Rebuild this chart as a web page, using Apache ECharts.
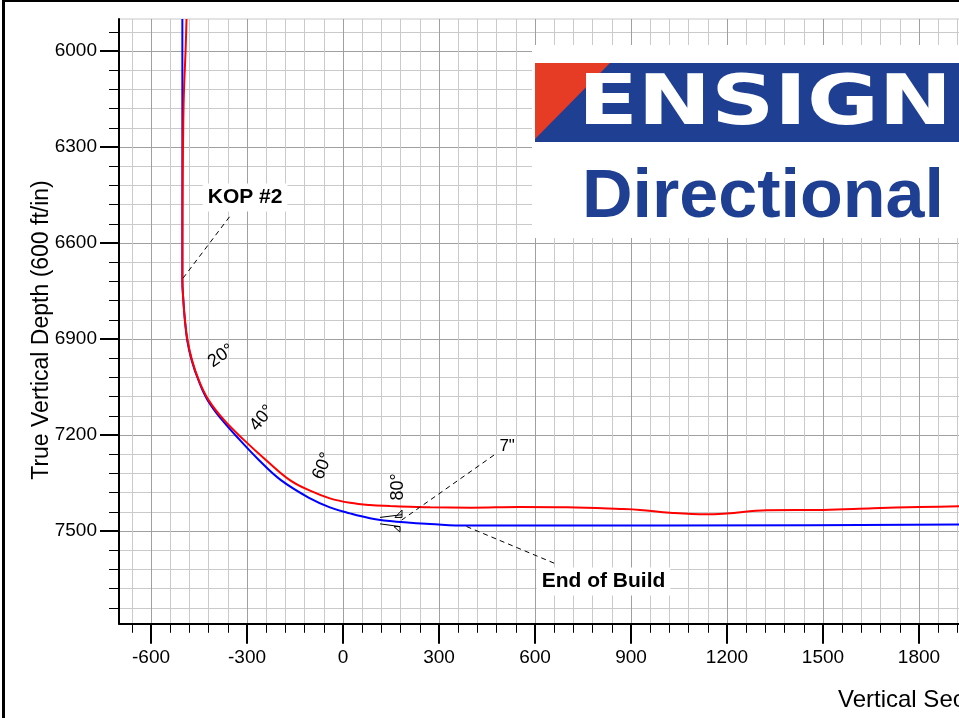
<!DOCTYPE html>
<html>
<head>
<meta charset="utf-8">
<script src="https://cdn.jsdelivr.net/npm/echarts@6/dist/echarts.min.js"></script>
<style>
  html, body { margin: 0; padding: 0; width: 959px; height: 718px; overflow: hidden; background: #fff; }
  #chart { width: 1200px; height: 718px; }
</style>
</head>
<body>
<div id="chart"></div>
<script>
// axis ticks
var xMajor = [-600, -300, 0, 300, 600, 900, 1200, 1500, 1800, 2100];
var yMajor = [6000, 6300, 6600, 6900, 7200, 7500];
var minorStep = 60;

// plan (blue) well path : vertical section / TVD
var planVS  = [-502, -502, -499, -494, -487, -473, -452, -423, -378, -322, -263, -194, -103, -41, 22, 84, 147, 209, 272, 388, 1000, 1925, 2400];
var planTVD = [5900, 6716, 6778, 6841, 6903, 6966, 7028, 7091, 7153, 7216, 7278, 7341, 7398, 7426, 7445, 7460, 7469, 7474, 7478, 7483, 7483, 7480, 7479];

// actual (red) well path
var actualVS  = [-489, -492, -497, -499, -501, -502, -502, -499, -494, -486, -472, -451, -420, -372, -309, -241, -166, -103, -41, 22, 84, 147, 209, 272, 400, 553, 700, 866, 928, 1022, 1136, 1199, 1324, 1500, 1656, 1800, 1925, 2100];
var actualTVD = [5900, 6000, 6125, 6219, 6400, 6600, 6716, 6778, 6841, 6903, 6966, 7028, 7091, 7153, 7216, 7278, 7341, 7374, 7398, 7412, 7419, 7422, 7424, 7426, 7427, 7425, 7426, 7431, 7434, 7443, 7448, 7445, 7435, 7434, 7429, 7425, 7423, 7421];

// inclination labels along the build
var incText = ['20°', '40°', '60°', '80°'];
var incVS   = [-381, -253, -63, 172];
var incTVD  = [6953, 7147, 7297, 7362];
var incTilt = [35, 50, 68, 90];

// callouts: text, label point, leader start, leader end
var calloutText = ['KOP #2', 'End of Build', '7"'];
var calloutVS   = [-306, 814, 513];
var calloutTVD  = [6458, 7658, 7234];
var leaderFrom  = [[-500, 6710], [386, 7486], [183, 7466]];
var leaderTo    = [[-350, 6512], [668, 7604], [480, 7257]];
var casingShoe  = [150, 7469];

function steps(a, b, s) {
  var out = [];
  for (var v = a; v <= b; v += s) out.push(v);
  return out;
}
var xMinor = steps(-660, 2400, minorStep);
var yMinor = steps(5940, 7740, minorStep);

function pairs(xs, ys) {
  return xs.map(function (x, i) { return [x, ys[i]]; });
}
function plain(v) { return String(v); }

var FONT = '"Liberation Sans", Arial, sans-serif';
var X_MIN = -700, X_MAX = 2400, Y_MIN = 5900, Y_MAX = 7790;

var chart = echarts.init(document.getElementById('chart'));

var option = {
  animation: false,
  backgroundColor: '#fff',
  textStyle: { fontFamily: FONT },
  grid: { left: 119, top: 19, width: 992, height: 604.8, show: true, borderColor: '#c8c8c8', borderWidth: 1, backgroundColor: 'transparent' },
  xAxis: [
    {
      type: 'value', min: X_MIN, max: X_MAX, position: 'bottom',
      axisLine: { show: true, onZero: false, lineStyle: { color: '#000', width: 2 } },
      axisTick: { show: true, customValues: xMinor, length: 9, lineStyle: { color: '#000', width: 1 } },
      axisLabel: { show: false },
      splitLine: { show: true, lineStyle: { color: '#cacaca', width: 1 } }
    },
    {
      type: 'value', min: X_MIN, max: X_MAX, position: 'bottom',
      axisLine: { show: false, onZero: false },
      axisTick: { show: true, customValues: xMajor, length: 20, lineStyle: { color: '#000', width: 2 } },
      axisLabel: { show: true, customValues: xMajor, formatter: plain, fontSize: 19, color: '#000', margin: 24, fontFamily: FONT },
      splitLine: { show: true, lineStyle: { color: '#a0a0a0', width: 1 } }
    }
  ],
  yAxis: [
    {
      type: 'value', min: Y_MIN, max: Y_MAX, inverse: true, position: 'left',
      axisLine: { show: true, onZero: false, lineStyle: { color: '#000', width: 2 } },
      axisTick: { show: true, customValues: yMinor, length: 10, lineStyle: { color: '#000', width: 1 } },
      axisLabel: { show: false },
      splitLine: { show: true, lineStyle: { color: '#cacaca', width: 1 } }
    },
    {
      type: 'value', min: Y_MIN, max: Y_MAX, inverse: true, position: 'left',
      axisLine: { show: false, onZero: false },
      axisTick: { show: true, customValues: yMajor, length: 19, lineStyle: { color: '#000', width: 2 } },
      axisLabel: { show: true, customValues: yMajor, formatter: plain, fontSize: 19, color: '#000', margin: 22, fontFamily: FONT },
      splitLine: { show: true, lineStyle: { color: '#a0a0a0', width: 1 } }
    }
  ],
  series: [
    {
      name: 'Plan', type: 'line', xAxisIndex: 0, yAxisIndex: 0,
      data: pairs(planVS, planTVD), showSymbol: false, smooth: 0.4, z: 3,
      lineStyle: { color: '#0000ff', width: 2 },
      markPoint: {
        silent: true,
        data: [{
          coord: casingShoe,
          symbol: 'path://M0,8 L22,5 M22,0 L22,8 L15,8 Z M0,15 L20,18 M20,18 L20,24 L14,18 Z',
          symbolSize: [22, 22]
        }],
        itemStyle: { color: 'rgba(0,0,0,0)', borderColor: '#000', borderWidth: 1 },
        label: { show: false }
      }
    },
    {
      name: 'Actual', type: 'line', xAxisIndex: 0, yAxisIndex: 0,
      data: pairs(actualVS, actualTVD), showSymbol: false, smooth: 0.4, z: 4,
      lineStyle: { color: '#ff0000', width: 2 }
    },
    {
      name: 'leaders', type: 'line', xAxisIndex: 0, yAxisIndex: 0, data: [], z: 5,
      markLine: {
        silent: true, symbol: 'none', label: { show: false },
        lineStyle: { color: '#000', width: 1, type: [5, 4] },
        data: leaderFrom.map(function (p, i) { return [{ coord: p }, { coord: leaderTo[i] }]; })
      }
    },
    {
      name: 'inclination', type: 'scatter', xAxisIndex: 0, yAxisIndex: 0, symbolSize: 0, z: 6, silent: true,
      itemStyle: { opacity: 1, color: '#000' },
      data: incText.map(function (t, i) {
        return { name: t, value: [incVS[i], incTVD[i]], label: { rotate: incTilt[i], color: '#000' } };
      }),
      label: { show: true, position: 'inside', formatter: '{b}', fontSize: 18, color: '#000', textBorderWidth: 0, fontFamily: FONT }
    },
    {
      name: 'callouts', type: 'scatter', xAxisIndex: 0, yAxisIndex: 0, symbolSize: 0, z: 7, silent: true,
      itemStyle: { opacity: 1, color: '#000' },
      data: calloutText.map(function (t, i) {
        var boxed = i < 2;
        return {
          name: t, value: [calloutVS[i], calloutTVD[i]],
          label: boxed
            ? { fontSize: 21, fontWeight: 'bold', color: '#000', backgroundColor: '#fff', padding: [4, 5, 3, 5] }
            : { fontSize: 17, fontWeight: 'normal', color: '#000' }
        };
      }),
      label: { show: true, position: 'inside', formatter: '{b}', color: '#000', textBorderWidth: 0, fontFamily: FONT }
    }
  ],
  graphic: [
    { type: 'rect', z: 100, shape: { x: 532, y: 45, width: 700, height: 193 }, style: { fill: '#fff' } },
    { type: 'rect', z: 101, shape: { x: 535, y: 63, width: 700, height: 79 }, style: { fill: '#1f3f92' } },
    { type: 'polygon', z: 102, shape: { points: [[535, 63], [610, 63], [535, 139]] }, style: { fill: '#e63b24' } },
    { type: 'text', z: 103, x: 578, y: 106, scaleX: 1.27,
      style: { text: 'ENSIGN', fill: '#fff', font: 'bold 69px "DejaVu Sans"', align: 'left', verticalAlign: 'middle' } },
    { type: 'text', z: 103, x: 582, y: 198, scaleX: 1.03,
      style: { text: 'Directional', fill: '#1f3f92', font: 'bold 68px "Liberation Sans"', align: 'left', verticalAlign: 'middle' } },
    { type: 'text', z: 103, x: 42, y: 330, rotation: Math.PI / 2,
      style: { text: 'True Vertical Depth (600 ft/in)', fill: '#000', font: '23px "Liberation Sans"', align: 'center', verticalAlign: 'middle' } },
    { type: 'text', z: 103, x: 838, y: 700,
      style: { text: 'Vertical Section at 0.00° (600 ft/in)', fill: '#000', font: '24px "Liberation Sans"', align: 'left', verticalAlign: 'middle' } },
    { type: 'line', z: 110, shape: { x1: 3.5, y1: 0, x2: 3.5, y2: 718 }, style: { stroke: '#000', lineWidth: 3 } },
    { type: 'line', z: 110, shape: { x1: 2, y1: 1, x2: 1200, y2: 1 }, style: { stroke: '#000', lineWidth: 2 } }
  ]
};

chart.setOption(option);
</script>
</body>
</html>
